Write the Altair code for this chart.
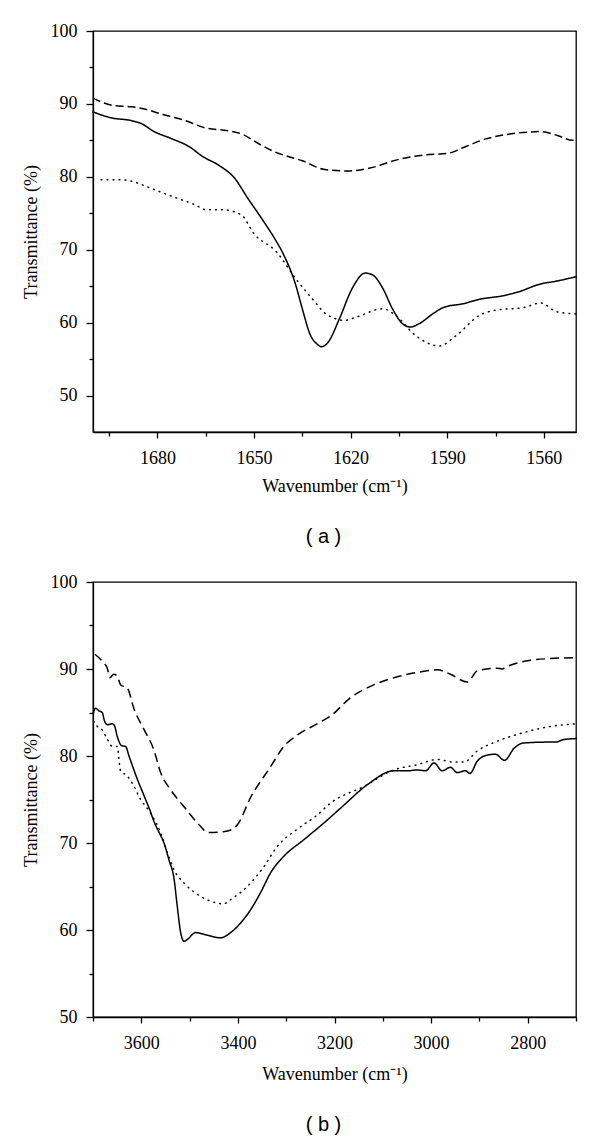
import altair as alt
import pandas as pd

# ---------------- Panel (a): 1700-1550 cm-1 ----------------
a_dash_wn = [1700, 1694, 1688, 1684, 1678, 1672, 1665, 1658, 1654, 1648, 1644, 1635, 1628, 1621,
             1614, 1605, 1597, 1590, 1584, 1578, 1570, 1561, 1556, 1551, 1550]
a_dash_t = [90.8, 89.8, 89.6, 89.3, 88.5, 87.8, 86.7, 86.3, 85.9, 84.4, 83.5, 82.2, 81.0, 80.8,
            81.2, 82.4, 83.0, 83.2, 84.2, 85.2, 85.9, 86.2, 85.7, 85.0, 85.0]

a_solid_wn = [1700, 1694.5, 1688, 1685, 1681, 1676, 1670, 1666, 1661, 1656, 1652, 1647.5, 1643, 1641,
              1637, 1635, 1632.5, 1630.5, 1629, 1627, 1623.5, 1619.5, 1615.5, 1613, 1610, 1607, 1604,
              1601.5, 1598.5, 1594.5, 1591, 1585, 1580, 1572.5, 1568, 1561, 1556, 1550]
a_solid_t = [88.9, 88.1, 87.7, 87.3, 86.2, 85.3, 84.1, 82.8, 81.6, 79.8, 77.1, 74.2, 71.1, 69.5,
             65.1, 61.9, 58.3, 57.1, 56.7, 57.3, 60.5, 64.7, 66.8, 66.5, 64.7, 61.9, 59.9,
             59.4, 59.9, 61.2, 62.1, 62.6, 63.2, 63.7, 64.2, 65.3, 65.7, 66.3]

a_dot_wn = [1697.5, 1691, 1688, 1683, 1676, 1668, 1665, 1660, 1654, 1650, 1643, 1637, 1631, 1628.5,
            1625, 1622, 1618, 1610, 1606, 1600, 1592.5, 1587, 1580, 1575, 1566, 1561, 1556, 1550]
a_dot_t = [79.6, 79.6, 79.4, 78.6, 77.4, 76.1, 75.5, 75.5, 74.8, 72.2, 69.7, 66.0, 62.8, 61.5,
           60.6, 60.3, 60.8, 61.9, 61.0, 58.3, 56.8, 58.3, 61.0, 61.7, 62.1, 62.7, 61.5, 61.2]

# ---------------- Panel (b): 3700-2700 cm-1 ----------------
b_dash_wn = [3696, 3681, 3670, 3665, 3657, 3650, 3643, 3629, 3615, 3594, 3574, 3560, 3539, 3512,
             3477, 3463, 3430, 3415, 3401, 3374, 3332, 3305, 3277, 3236, 3208, 3167, 3118, 3070,
             3029, 2987, 2960, 2925, 2904, 2863, 2853, 2842, 2794, 2753, 2700]
b_dash_t = [91.7, 90.9, 90.0, 89.0, 89.4, 89.2, 88.2, 87.8, 85.4, 83.0, 80.7, 78.1, 76.1, 74.2,
            71.9, 71.2, 71.3, 71.5, 72.1, 75.2, 78.8, 81.1, 82.4, 83.7, 84.6, 86.7, 88.2, 89.1,
            89.6, 89.9, 89.4, 88.5, 89.8, 90.1, 90.0, 90.3, 91.0, 91.2, 91.3]

b_solid_wn = [3699, 3695, 3688, 3681, 3676, 3670, 3660, 3655, 3650, 3641, 3632.5, 3625.5, 3608, 3594,
              3581, 3574, 3563, 3553, 3543, 3532, 3525.5, 3518.5, 3511.5, 3505, 3487.5, 3463, 3436,
              3415, 3394.5, 3374, 3353, 3332, 3304.5, 3263, 3222, 3187.5, 3132, 3077, 3049, 3029,
              3011.5, 2994, 2977, 2960, 2946, 2929, 2919.5, 2904.5, 2884, 2866.5, 2848, 2828, 2808,
              2753, 2742, 2725, 2700]
b_solid_t = [85.0, 85.5, 85.2, 85.0, 84.0, 83.6, 83.7, 83.4, 82.3, 81.2, 81.1, 80.0, 77.3, 75.4,
             73.6, 72.5, 71.2, 70.0, 68.1, 65.8, 62.7, 59.7, 58.7, 58.9, 59.7, 59.4, 59.1,
             59.7, 60.8, 62.3, 64.3, 66.6, 68.5, 70.4, 72.3, 74.0, 76.7, 78.3, 78.3, 78.4,
             78.3, 79.2, 78.3, 78.7, 78.1, 78.3, 78.0, 79.4, 80.1, 80.2, 79.5, 80.9, 81.5,
             81.6, 81.6, 81.9, 82.0]

b_dot_wn = [3699, 3691, 3681, 3670, 3660, 3650, 3643, 3629, 3615, 3601.5, 3588, 3574, 3560, 3546,
            3532, 3511.5, 3484, 3443, 3430, 3415, 3380.5, 3346, 3318.5, 3277, 3236, 3208, 3139,
            3077, 3029, 2987, 2953, 2932, 2904, 2863, 2808, 2753, 2700]
b_dot_t = [84.0, 83.4, 83.0, 81.9, 81.1, 81.1, 78.3, 77.7, 76.5, 75.0, 74.0, 72.8, 71.2, 68.9,
           66.9, 65.4, 64.1, 63.1, 63.0, 63.5, 65.0, 67.3, 69.6, 71.6, 73.2, 74.6, 76.5,
           78.4, 79.0, 79.6, 79.3, 79.3, 80.6, 81.7, 82.7, 83.4, 83.7]

# axis tick values
a_x_ticks = [1695, 1680, 1665, 1650, 1635, 1620, 1605, 1590, 1575, 1560]
a_y_ticks = [50, 55, 60, 65, 70, 75, 80, 85, 90, 95, 100]
b_x_ticks = [3700, 3600, 3500, 3400, 3300, 3200, 3100, 3000, 2900, 2800, 2700]
b_y_ticks = [50, 55, 60, 65, 70, 75, 80, 85, 90, 95, 100]

SERIF = "Liberation Serif"


def frame(wn, t):
    return pd.DataFrame({"wn": wn, "T": t})


def panel(series, xdom, ydom, xticks, yticks, xmajor, ymajor, label, w, h, xtitlepad):
    x = alt.X(
        "wn:Q",
        scale=alt.Scale(domain=xdom, reverse=True, nice=False, zero=False),
        axis=alt.Axis(
            values=xticks,
            format="d",
            labelExpr=f"datum.value % {xmajor} === 0 ? datum.label : ''",
            tickSize={"condition": {"test": f"datum.value % {xmajor} === 0", "value": 6}, "value": 4},
            labelPadding=11,
            titlePadding=xtitlepad,
            title="Wavenumber (cm⁻¹)",
        ),
    )
    y = alt.Y(
        "T:Q",
        scale=alt.Scale(domain=ydom, nice=False, zero=False),
        axis=alt.Axis(
            values=yticks,
            format="d",
            labelExpr=f"datum.value % {ymajor} === 0 ? datum.label : ''",
            tickSize={"condition": {"test": f"datum.value % {ymajor} === 0", "value": 7}, "value": 4},
            labelPadding=9,
            titlePadding=10,
            title="Transmittance (%)",
        ),
    )
    layers = []
    for df, dash in series:
        m = alt.Chart(df).mark_line(
            color="black", strokeWidth=1.5, interpolate="monotone",
            strokeDash=dash, strokeCap="butt" if dash[0] > 2 else "round",
        ).encode(x=x, y=y)
        layers.append(m)
    return alt.layer(*layers).properties(
        width=w, height=h,
        title=alt.TitleParams(label, orient="bottom", font="Liberation Sans", fontSize=20,
                              fontWeight="normal", offset=32, dx=-11, color="black"),
    )


pa = panel(
    [(frame(a_dash_wn, a_dash_t), [8, 4]),
     (frame(a_solid_wn, a_solid_t), [1, 0]),
     (frame(a_dot_wn, a_dot_t), [0.8, 5.2])],
    [1550, 1700], [45, 100], a_x_ticks, a_y_ticks, 30, 10, "( a )", 483, 401, 10,
)
pb = panel(
    [(frame(b_dash_wn, b_dash_t), [9, 5]),
     (frame(b_solid_wn, b_solid_t), [1, 0]),
     (frame(b_dot_wn, b_dot_t), [0.8, 5.2])],
    [2700, 3700], [50, 100], b_x_ticks, b_y_ticks, 200, 10, "( b )", 483, 435, 13,
)

chart = alt.vconcat(pa, pb, spacing=24).properties(
    padding={"left": 13, "top": 13, "right": 5, "bottom": 5},
    background="white",
).configure_view(
    stroke="black", strokeWidth=1.3
).configure_axis(
    domainColor="black", domainWidth=1.3, tickColor="black", tickWidth=1.3,
    labelFont=SERIF, labelFontSize=18, labelColor="black",
    titleFont=SERIF, titleFontSize=18, titleFontWeight="normal", titleColor="black",
    grid=False,
)

chart.save("out.html", embed_options={"renderer": "svg", "actions": False})
